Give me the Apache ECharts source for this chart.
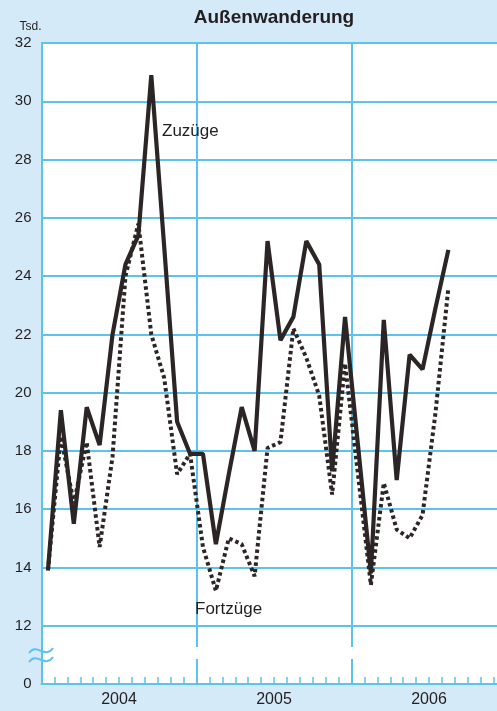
<!DOCTYPE html>
<html>
<head>
<meta charset="utf-8">
<script src="https://cdn.jsdelivr.net/npm/echarts@6/dist/echarts.min.js"></script>
<style>
html,body{margin:0;padding:0;background:#d5eaf8;}
#c{width:497px;height:711px;}
</style>
</head>
<body>
<div id="c"></div>
<script>
// ---- data ----
const months = [];
['2004','2005','2006'].forEach(y => { for (let m = 1; m <= 12; m++) months.push(y + '-' + (m < 10 ? '0' + m : m)); });
const years = ['2004', '2005', '2006'];
const yTicks = [0, 12, 14, 16, 18, 20, 22, 24, 26, 28, 30, 32];
// Zuzüge (solid), Tsd., Jan 2004 – Aug 2006
const zuzuege = [13.9, 19.4, 15.5, 19.5, 18.2, 22.0, 24.4, 25.4, 30.9, 25.0, 19.0, 17.9,
                 17.9, 14.8, 17.2, 19.5, 18.0, 25.2, 21.8, 22.6, 25.2, 24.4, 17.3, 22.6,
                 18.2, 13.8, 22.5, 17.0, 21.3, 20.8, 22.9, 24.9];
// Fortzüge (dotted)
const fortzuege = [13.9, 18.5, 16.2, 18.3, 14.7, 17.8, 24.0, 25.8, 22.0, 20.5, 17.2, 17.9,
                   14.7, 13.2, 15.0, 14.8, 13.7, 18.1, 18.3, 22.2, 21.2, 19.9, 16.5, 21.0,
                   17.2, 13.4, 16.9, 15.3, 15.0, 15.8, 19.3, 23.6];

const BLUE = '#5cc3ee';
const INK = '#2b2625';
const FONT = '"Liberation Sans", Arial, sans-serif';
const chart = echarts.init(document.getElementById('c'), null, {renderer: 'canvas'});
chart.setOption({
  animation: false,
  backgroundColor: '#d5eaf8',
  grid: {left: 41.5, right: -9.5, top: 43, bottom: 27, show: true, backgroundColor: '#ffffff', borderWidth: 0, outerBoundsMode: 'none'},
  xAxis: [{
    type: 'category', data: months, boundaryGap: true,
    axisLine: {show: true, lineStyle: {color: BLUE, width: 2}},
    axisTick: {show: true, interval: 0, inside: true, length: 7, lineStyle: {color: BLUE, width: 1.5}},
    axisLabel: {show: false},
    splitLine: {show: true, interval: (i) => i % 12 === 0 && i > 0, lineStyle: {color: BLUE, width: 2}}
  }, {
    type: 'category', data: years, boundaryGap: true, position: 'bottom',
    axisLine: {show: false}, axisTick: {show: false}, splitLine: {show: false},
    axisLabel: {fontSize: 16, color: '#231f20', margin: 8, fontFamily: FONT}
  }],
  yAxis: {
    type: 'value', min: 10, max: 32, interval: 2,
    name: 'Tsd.', nameLocation: 'end', nameGap: 10,
    nameTextStyle: {fontSize: 12, color: '#231f20', align: 'right', verticalAlign: 'bottom', fontFamily: FONT},
    axisLine: {show: true, lineStyle: {color: BLUE, width: 2}},
    axisTick: {show: false},
    axisLabel: {fontSize: 15, color: '#231f20', margin: 10, fontFamily: FONT,
      formatter: v => (v === 10 ? String(yTicks[0]) : (yTicks.indexOf(v) >= 0 ? String(v) : ''))},
    splitLine: {show: true, lineStyle: {color: BLUE, width: 2}}
  },
  series: [{
    name: 'Fortzüge', type: 'line', xAxisIndex: 0, data: fortzuege, symbol: 'none',
    lineStyle: {color: INK, width: 4, type: [3.5, 3], cap: 'butt'}, z: 3
  }, {
    name: 'Zuzüge', type: 'line', xAxisIndex: 0, data: zuzuege, symbol: 'none',
    lineStyle: {color: INK, width: 4.2}, z: 4
  }],
  graphic: [
    {type: 'text', x: 274, y: 18, z: 100, style: {text: 'Außenwanderung', font: 'bold 19px ' + FONT, fill: '#231f20', align: 'center', verticalAlign: 'middle'}},
    {type: 'text', x: 162, y: 131, z: 100, style: {text: 'Zuzüge', font: '17px ' + FONT, fill: '#231f20', align: 'left', verticalAlign: 'middle'}},
    {type: 'text', x: 195, y: 609, z: 100, style: {text: 'Fortzüge', font: '17px ' + FONT, fill: '#231f20', align: 'left', verticalAlign: 'middle'}},
    {type: 'rect', z: 100, shape: {x: 43, y: 647, width: 460, height: 12}, style: {fill: '#ffffff'}},
    {type: 'bezierCurve', z: 101, shape: {x1: 29, y1: 653, cpx1: 37, cpy1: 642, cpx2: 45, cpy2: 660, x2: 53, y2: 648}, style: {stroke: BLUE, lineWidth: 2, fill: null}},
    {type: 'bezierCurve', z: 101, shape: {x1: 29, y1: 662, cpx1: 37, cpy1: 651, cpx2: 45, cpy2: 669, x2: 53, y2: 657}, style: {stroke: BLUE, lineWidth: 2, fill: null}}
  ]
});
</script>
</body>
</html>
